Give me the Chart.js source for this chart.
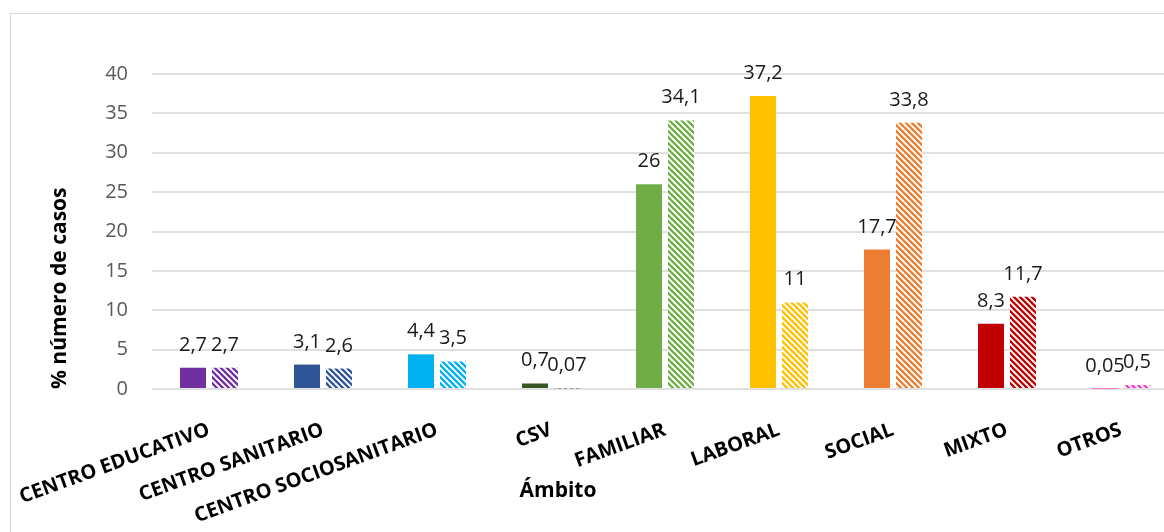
<!DOCTYPE html>
<html>
<head>
<meta charset="utf-8">
<script src="https://cdn.jsdelivr.net/npm/chart.js@4"></script>
<style>
  html, body { margin: 0; padding: 0; background: #fff; overflow: hidden; width: 1164px; height: 532px; }
  #frame { position: absolute; left: 10px; top: 13px; width: 1300px; height: 600px; border: 1px solid #d9d9d9; }
  #chart { position: absolute; left: 11px; top: 14px; }
</style>
</head>
<body>
<div id="frame"></div>
<canvas id="chart" width="1200" height="518"></canvas>
<script>
const categories = ["CENTRO EDUCATIVO", "CENTRO SANITARIO", "CENTRO SOCIOSANITARIO", "CSV",
  "FAMILIAR", "LABORAL", "SOCIAL", "MIXTO", "OTROS"];
const serieA = [2.7, 3.1, 4.4, 0.7, 26, 37.2, 17.7, 8.3, 0.05];
const serieB = [2.7, 2.6, 3.5, 0.07, 34.1, 11, 33.8, 11.7, 0.5];
const colors = ["#7030a0", "#2f5597", "#00b0f0", "#375623", "#70ad47", "#ffc000", "#ed7d31", "#c00000", "#ff33cc"];
const yTicks = [0, 5, 10, 15, 20, 25, 30, 35, 40];

const FONT = "'Open Sans', 'Noto Sans', sans-serif";

function hatch(color) {
  const c = document.createElement("canvas");
  c.width = 6; c.height = 6;
  const g = c.getContext("2d");
  g.fillStyle = "#fff";
  g.fillRect(0, 0, 6, 6);
  g.strokeStyle = color;
  g.lineWidth = 2.3;
  for (let k = -1; k <= 1; k++) {
    g.beginPath();
    g.moveTo(k * 6 - 2, -2);
    g.lineTo(k * 6 + 8, 8);
    g.stroke();
  }
  return g.createPattern(c, "repeat");
}

const fmt = v => String(v).replace(".", ",");

// etiquetas encima de cada barra
const valueLabels = {
  id: "valueLabels",
  afterDatasetsDraw(chart) {
    const ctx = chart.ctx;
    ctx.save();
    ctx.font = "20px " + FONT;
    ctx.fillStyle = "#1a1a1a";
    ctx.textAlign = "center";
    ctx.textBaseline = "alphabetic";
    chart.data.datasets.forEach((ds, i) => {
      chart.getDatasetMeta(i).data.forEach((bar, j) => {
        ctx.fillText(fmt(ds.data[j]), bar.x, bar.y - 17);
      });
    });
    ctx.restore();
  }
};

// título del eje X (no centrado en el área del gráfico)
const xTitle = {
  id: "xTitle",
  afterDraw(chart) {
    const ctx = chart.ctx;
    ctx.save();
    ctx.font = "bold 21px " + FONT;
    ctx.fillStyle = "#000";
    ctx.textAlign = "center";
    ctx.textBaseline = "middle";
    ctx.fillText("Ámbito", 547, 477);
    ctx.restore();
  }
};

const ctx = document.getElementById("chart").getContext("2d");

new Chart(ctx, {
  type: "bar",
  data: {
    labels: categories,
    datasets: [
      { data: serieA, backgroundColor: colors },
      { data: serieB, backgroundColor: colors.map(hatch) }
    ]
  },
  options: {
    responsive: false,
    devicePixelRatio: 1,
    animation: false,
    layout: { padding: { left: 0, top: 60, right: 33, bottom: 0 } },
    datasets: { bar: { categoryPercentage: 0.561, barPercentage: 0.8125 } },
    plugins: { legend: { display: false }, tooltip: { enabled: false } },
    scales: {
      x: {
        grid: { display: false },
        border: { display: false },
        ticks: {
          color: "#000",
          font: { family: FONT, size: 20, weight: "bold" },
          minRotation: 20, maxRotation: 20,
          padding: 21,
          autoSkip: false
        },
        afterFit(s) { s.height = 143; s.paddingLeft = 0; s.paddingRight = 0; }
      },
      y: {
        min: 0, max: 40,
        afterBuildTicks(s) { s.ticks = yTicks.map(v => ({ value: v })); },
        grid: { color: "#e0e0e0", lineWidth: 2, drawTicks: false },
        border: { display: false },
        ticks: { color: "#595959", font: { family: FONT, size: 20 }, padding: 24 },
        title: {
          display: true, text: "% número de casos", align: "start",
          color: "#000", font: { family: FONT, size: 21, weight: "bold" },
          padding: { top: 36, bottom: 0 }
        },
        afterFit(s) { s.width = 141; }
      }
    }
  },
  plugins: [valueLabels, xTitle]
});
</script>
</body>
</html>
